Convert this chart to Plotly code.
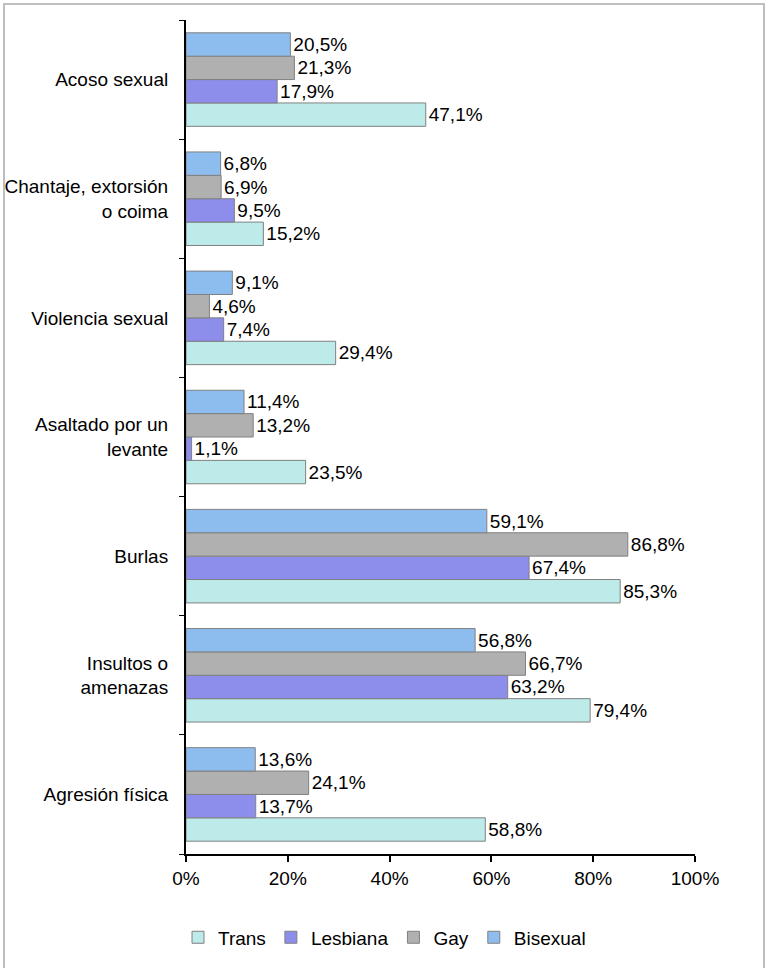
import plotly.graph_objects as go

categories = ["Agresión física", "Insultos o<br>amenazas", "Burlas",
              "Asaltado por un<br>levante", "Violencia sexual",
              "Chantaje, extorsión<br>o coima", "Acoso sexual"]
series_names = ["Trans", "Lesbiana", "Gay", "Bisexual"]
trans = [58.8, 79.4, 85.3, 23.5, 29.4, 15.2, 47.1]
lesbiana = [13.7, 63.2, 67.4, 1.1, 7.4, 9.5, 17.9]
gay = [24.1, 66.7, 86.8, 13.2, 4.6, 6.9, 21.3]
bisexual = [13.6, 56.8, 59.1, 11.4, 9.1, 6.8, 20.5]
tick_vals = [0, 20, 40, 60, 80, 100]
tick_text = ["0%", "20%", "40%", "60%", "80%", "100%"]

colors = ["#BDEBEA", "#8D8DEB", "#B0B0B0", "#8DBDEF"]
all_values = [trans, lesbiana, gay, bisexual]

FONT = "Liberation Sans, Arial, sans-serif"
FS = 19

fig = go.Figure()
for name, vals, col in zip(series_names, all_values, colors):
    fig.add_trace(go.Bar(
        y=categories, x=vals, name=name, orientation="h",
        marker=dict(color=col, line=dict(color="#808080", width=1)),
        text=[f"{v:.1f}%".replace(".", ",") for v in vals],
        textposition="outside",
        textfont=dict(family=FONT, size=FS, color="#000000"),
        cliponaxis=False,
        hoverinfo="x+y+name",
    ))

fig.update_layout(
    width=765, height=968,
    barmode="group", bargap=0.215, bargroupgap=0,
    paper_bgcolor="white", plot_bgcolor="white",
    margin=dict(l=186, r=70, t=20, b=110),
    font=dict(family=FONT, size=FS, color="#000000"),
    showlegend=True,
    legend=dict(orientation="h", x=0.39, xanchor="center", y=-0.1,
                yanchor="middle", font=dict(family=FONT, size=FS),
                itemwidth=30, tracegroupgap=0),
    xaxis=dict(range=[0, 100], tickvals=tick_vals, ticktext=tick_text,
               showgrid=False, zeroline=False, showline=True,
               linecolor="#000000", linewidth=2, ticks="outside",
               ticklen=6, tickwidth=2, tickcolor="#000000",
               automargin=False,
               tickfont=dict(family=FONT, size=FS)),
    yaxis=dict(categoryorder="array", categoryarray=categories,
               showgrid=False, zeroline=False, showline=True,
               linecolor="#000000", linewidth=2, ticks="outside",
               ticklen=5, tickwidth=1, tickcolor="#000000",
               tickson="boundaries", automargin=False,
               ticklabelstandoff=12,
               tickfont=dict(family=FONT, size=FS)),
    shapes=[dict(type="rect", xref="paper", yref="paper",
                 x0=(4 - 186) / 509, x1=(764 - 186) / 509,
                 y0=(858 - 975) / 838, y1=1 + 16 / 838,
                 line=dict(color="#BEBEBE", width=2), fillcolor="rgba(0,0,0,0)",
                 layer="below")],
)

fig.write_html("out.html", config={"displayModeBar": False},
               post_script="document.body.style.margin='0';")
